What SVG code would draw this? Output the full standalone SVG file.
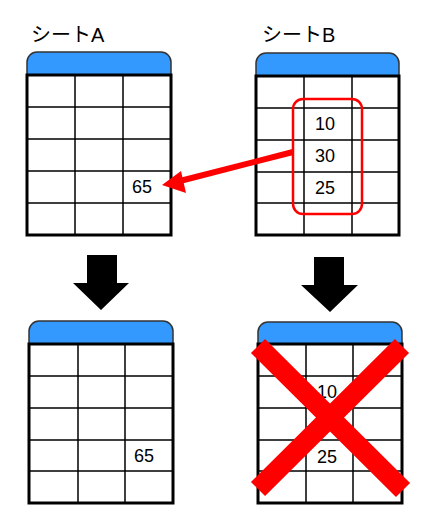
<svg xmlns="http://www.w3.org/2000/svg" width="430" height="530" viewBox="0 0 430 530">
<style>
.hdr{fill:#3399ff;stroke:#333;stroke-width:1.5}
.grid{fill:none;stroke:#000;stroke-width:1.5}
.border{fill:none;stroke:#000;stroke-width:3}
.t{font-family:"Liberation Sans","Noto Sans CJK JP",sans-serif;font-size:20px;fill:#000}
.n{font-family:"Liberation Sans",Arial,sans-serif;font-size:18px;fill:#000;text-anchor:middle}
.down{fill:#000}
</style>
<rect width="430" height="530" fill="#fff"/>
<g id="sheetA">
<text class="t" x="31" y="42">シートA</text>
<path class="hdr" d="M27,75 V62 a10,10 0 0 1 10,-10 H161 a10,10 0 0 1 10,10 V75 Z"/>
<rect x="27" y="75" width="144" height="160" fill="#fff"/>
<path class="grid" d="M75,75V235M123,75V235M27,107H171M27,139H171M27,171H171M27,203H171"/>
<rect class="border" x="27" y="75" width="144" height="160"/>
<text class="n" x="142" y="193">65</text>
</g>
<g id="sheetB">
<text class="t" x="262" y="42">シートB</text>
<path class="hdr" d="M256,76 V63 a10,10 0 0 1 10,-10 H389 a10,10 0 0 1 10,10 V76 Z"/>
<rect x="256" y="76" width="143" height="159" fill="#fff"/>
<path class="grid" d="M304,76V235M352,76V235M256,108H399M256,140H399M256,172H399M256,203H399"/>
<rect class="border" x="256" y="76" width="143" height="159"/>
<text class="n" x="325" y="130">10</text>
<text class="n" x="325" y="162">30</text>
<text class="n" x="325" y="194">25</text>
<rect x="293" y="99" width="69" height="115" rx="10" fill="none" stroke="#ff0000" stroke-width="2.5"/>
</g>
<g id="sheetA2">
<path class="hdr" d="M29,344 V331 a10,10 0 0 1 10,-10 H163 a10,10 0 0 1 10,10 V344 Z"/>
<rect x="29" y="344" width="144" height="159" fill="#fff"/>
<path class="grid" d="M78,344V503M125,344V503M29,376H173M29,408H173M29,440H173M29,471H173"/>
<rect class="border" x="29" y="344" width="144" height="159"/>
<text class="n" x="144" y="462">65</text>
</g>
<g id="sheetB2">
<path class="hdr" d="M258,344 V332 a10,10 0 0 1 10,-10 H392 a10,10 0 0 1 10,10 V344 Z"/>
<rect x="258" y="344" width="144" height="159" fill="#fff"/>
<path class="grid" d="M306,344V503M353,344V503M258,376H402M258,408H402M258,440H402M258,471H402"/>
<rect class="border" x="258" y="344" width="144" height="159"/>
<text class="n" x="327" y="398">10</text>
<text class="n" x="327" y="463">25</text>
<path d="M258,346L403,490M402,346L258,489" stroke="#ff0000" stroke-width="20" fill="none"/>
</g>
<g id="connectors">
<path d="M293,152 L176,182" stroke="#ff0000" stroke-width="6" fill="none"/>
<polygon points="162,185 181,171 186,193" fill="#ff0000"/>
<polygon class="down" points="87,255 117,255 117,283 129,283 101,310 73,283 87,283"/>
<polygon class="down" points="314,257 344,257 344,285 358,285 330,312 301,285 314,285"/>
</g>
</svg>
